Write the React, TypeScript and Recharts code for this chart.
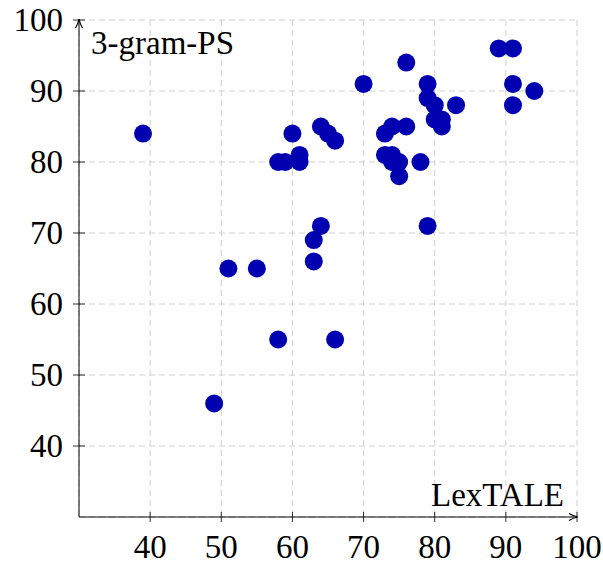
import { CartesianGrid, Label, Scatter, ScatterChart, XAxis, YAxis } from 'recharts';

const lexTale = [
  39, 49, 51, 55, 58, 66, 58, 59, 61, 61, 60, 64, 65, 66, 64, 63, 63, 70, 76, 73, 74,
  76, 73, 74, 74, 75, 75, 78, 79, 79, 79, 80, 83, 80, 81, 81, 89, 91, 91, 91, 94,
];
const gramPs = [
  84, 46, 65, 65, 55, 55, 80, 80, 80, 81, 84, 85, 84, 83, 71, 69, 66, 91, 94, 84, 85,
  85, 81, 81, 80, 80, 78, 80, 71, 91, 89, 88, 88, 86, 86, 85, 96, 96, 91, 88, 90,
];
const tickValues = [40, 50, 60, 70, 80, 90, 100];

const points = lexTale.map((x, i) => ({ x, y: gramPs[i] }));

const FONT = '"Liberation Serif", "Times New Roman", serif';
const FONT_SIZE = 33;
const DOT = '#0000b0';

function XTick({ x, y, payload }: any) {
  return (
    <g>
      <line x1={x} x2={x} y1={y - 5} y2={y + 5} stroke="#000" strokeWidth={0.8} />
      <text x={x} y={y + 41} textAnchor="middle" fontSize={FONT_SIZE} fontFamily={FONT} fill="#000">
        {payload.value}
      </text>
    </g>
  );
}

function YTick({ x, y, payload }: any) {
  return (
    <g>
      <line x1={x - 6} x2={x + 6} y1={y} y2={y} stroke="#000" strokeWidth={0.8} />
      <text x={x - 16} y={y + 11} textAnchor="end" fontSize={FONT_SIZE} fontFamily={FONT} fill="#000">
        {payload.value}
      </text>
    </g>
  );
}

export default function App() {
  return (
    <div style={{ position: 'absolute', left: 0, top: 0, background: '#fff' }}>
      <ScatterChart width={603} height={565} margin={{ top: 20, right: 26, bottom: 0, left: 0 }}>
        <defs>
          <marker
            id="arrowHead"
            viewBox="0 0 10 10"
            refX="9"
            refY="5"
            markerWidth="10"
            markerHeight="10"
            markerUnits="userSpaceOnUse"
            orient="auto-start-reverse"
          >
            <path d="M1,1.5 Q5,4 10,5 Q5,6 1,8.5" fill="none" stroke="#000" strokeWidth={1.2} />
          </marker>
        </defs>
        <CartesianGrid strokeDasharray="6 4" stroke="#d0d0d0" strokeWidth={1} />
        <XAxis
          type="number"
          dataKey="x"
          domain={[30, 100]}
          ticks={tickValues}
          tickSize={0}
          tickMargin={0}
          tick={<XTick />}
          tickLine={false}
          axisLine={{ stroke: '#000', strokeWidth: 1, markerEnd: 'url(#arrowHead)' }}
          height={48}
        >
          <Label
            content={({ viewBox }: any) => (
              <text
                x={viewBox.x + viewBox.width - 13}
                y={viewBox.y - 11}
                textAnchor="end"
                fontSize={FONT_SIZE}
                fontFamily={FONT}
                fill="#000"
              >
                LexTALE
              </text>
            )}
          />
        </XAxis>
        <YAxis
          type="number"
          dataKey="y"
          domain={[30, 100]}
          ticks={tickValues}
          tickSize={0}
          tickMargin={0}
          tick={<YTick />}
          tickLine={false}
          axisLine={{ stroke: '#000', strokeWidth: 1, markerStart: 'url(#arrowHead)' }}
          width={79}
        >
          <Label
            content={({ viewBox }: any) => (
              <text
                x={viewBox.x + viewBox.width + 12}
                y={viewBox.y + 34}
                textAnchor="start"
                fontSize={FONT_SIZE}
                fontFamily={FONT}
                fill="#000"
              >
                3-gram-PS
              </text>
            )}
          />
        </YAxis>
        <Scatter
          data={points}
          isAnimationActive={false}
          shape={(p: any) => <circle cx={p.cx} cy={p.cy} r={9} fill={DOT} />}
        />
      </ScatterChart>
    </div>
  );
}
